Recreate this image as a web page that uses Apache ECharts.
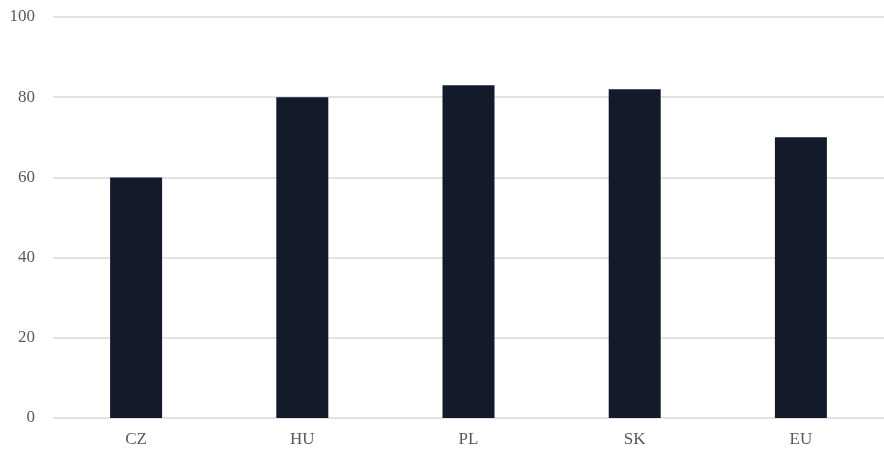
<!DOCTYPE html>
<html>
<head>
<meta charset="utf-8">
<script src="https://cdn.jsdelivr.net/npm/echarts@6/dist/echarts.min.js"></script>
<style>
  html, body { margin: 0; padding: 0; background: #fff; }
  #show { width: 884px; height: 453px; }
</style>
</head>
<body>
<div id="show"></div>
<script>
var countries = ['CZ', 'HU', 'PL', 'SK', 'EU'];
var values = [60, 80, 83, 82, 70];
var yTicks = [0, 20, 40, 60, 80, 100];

var myChart = echarts.init(document.getElementById('show'));
var option = {
    animation: false,
    grid: { left: 53, right: 0, top: 17, bottom: 35 },
    xAxis: {
        type: 'category',
        data: countries,
        axisLine: { show: false },
        axisTick: { show: false },
        axisLabel: { color: '#595959', fontFamily: 'Liberation Serif', fontSize: 17, margin: 13 }
    },
    yAxis: {
        type: 'value',
        min: yTicks[0],
        max: yTicks[yTicks.length - 1],
        interval: yTicks[1] - yTicks[0],
        axisLine: { show: false },
        axisTick: { show: false },
        splitLine: { lineStyle: { color: '#d9d9d9', width: 1.5 } },
        axisLabel: { color: '#595959', fontFamily: 'Liberation Serif', fontSize: 17, margin: 18 }
    },
    series: [
        {
            type: 'bar',
            data: values,
            barWidth: 52,
            itemStyle: { color: '#131a2a' }
        }
    ]
};
myChart.setOption(option);
</script>
</body>
</html>
